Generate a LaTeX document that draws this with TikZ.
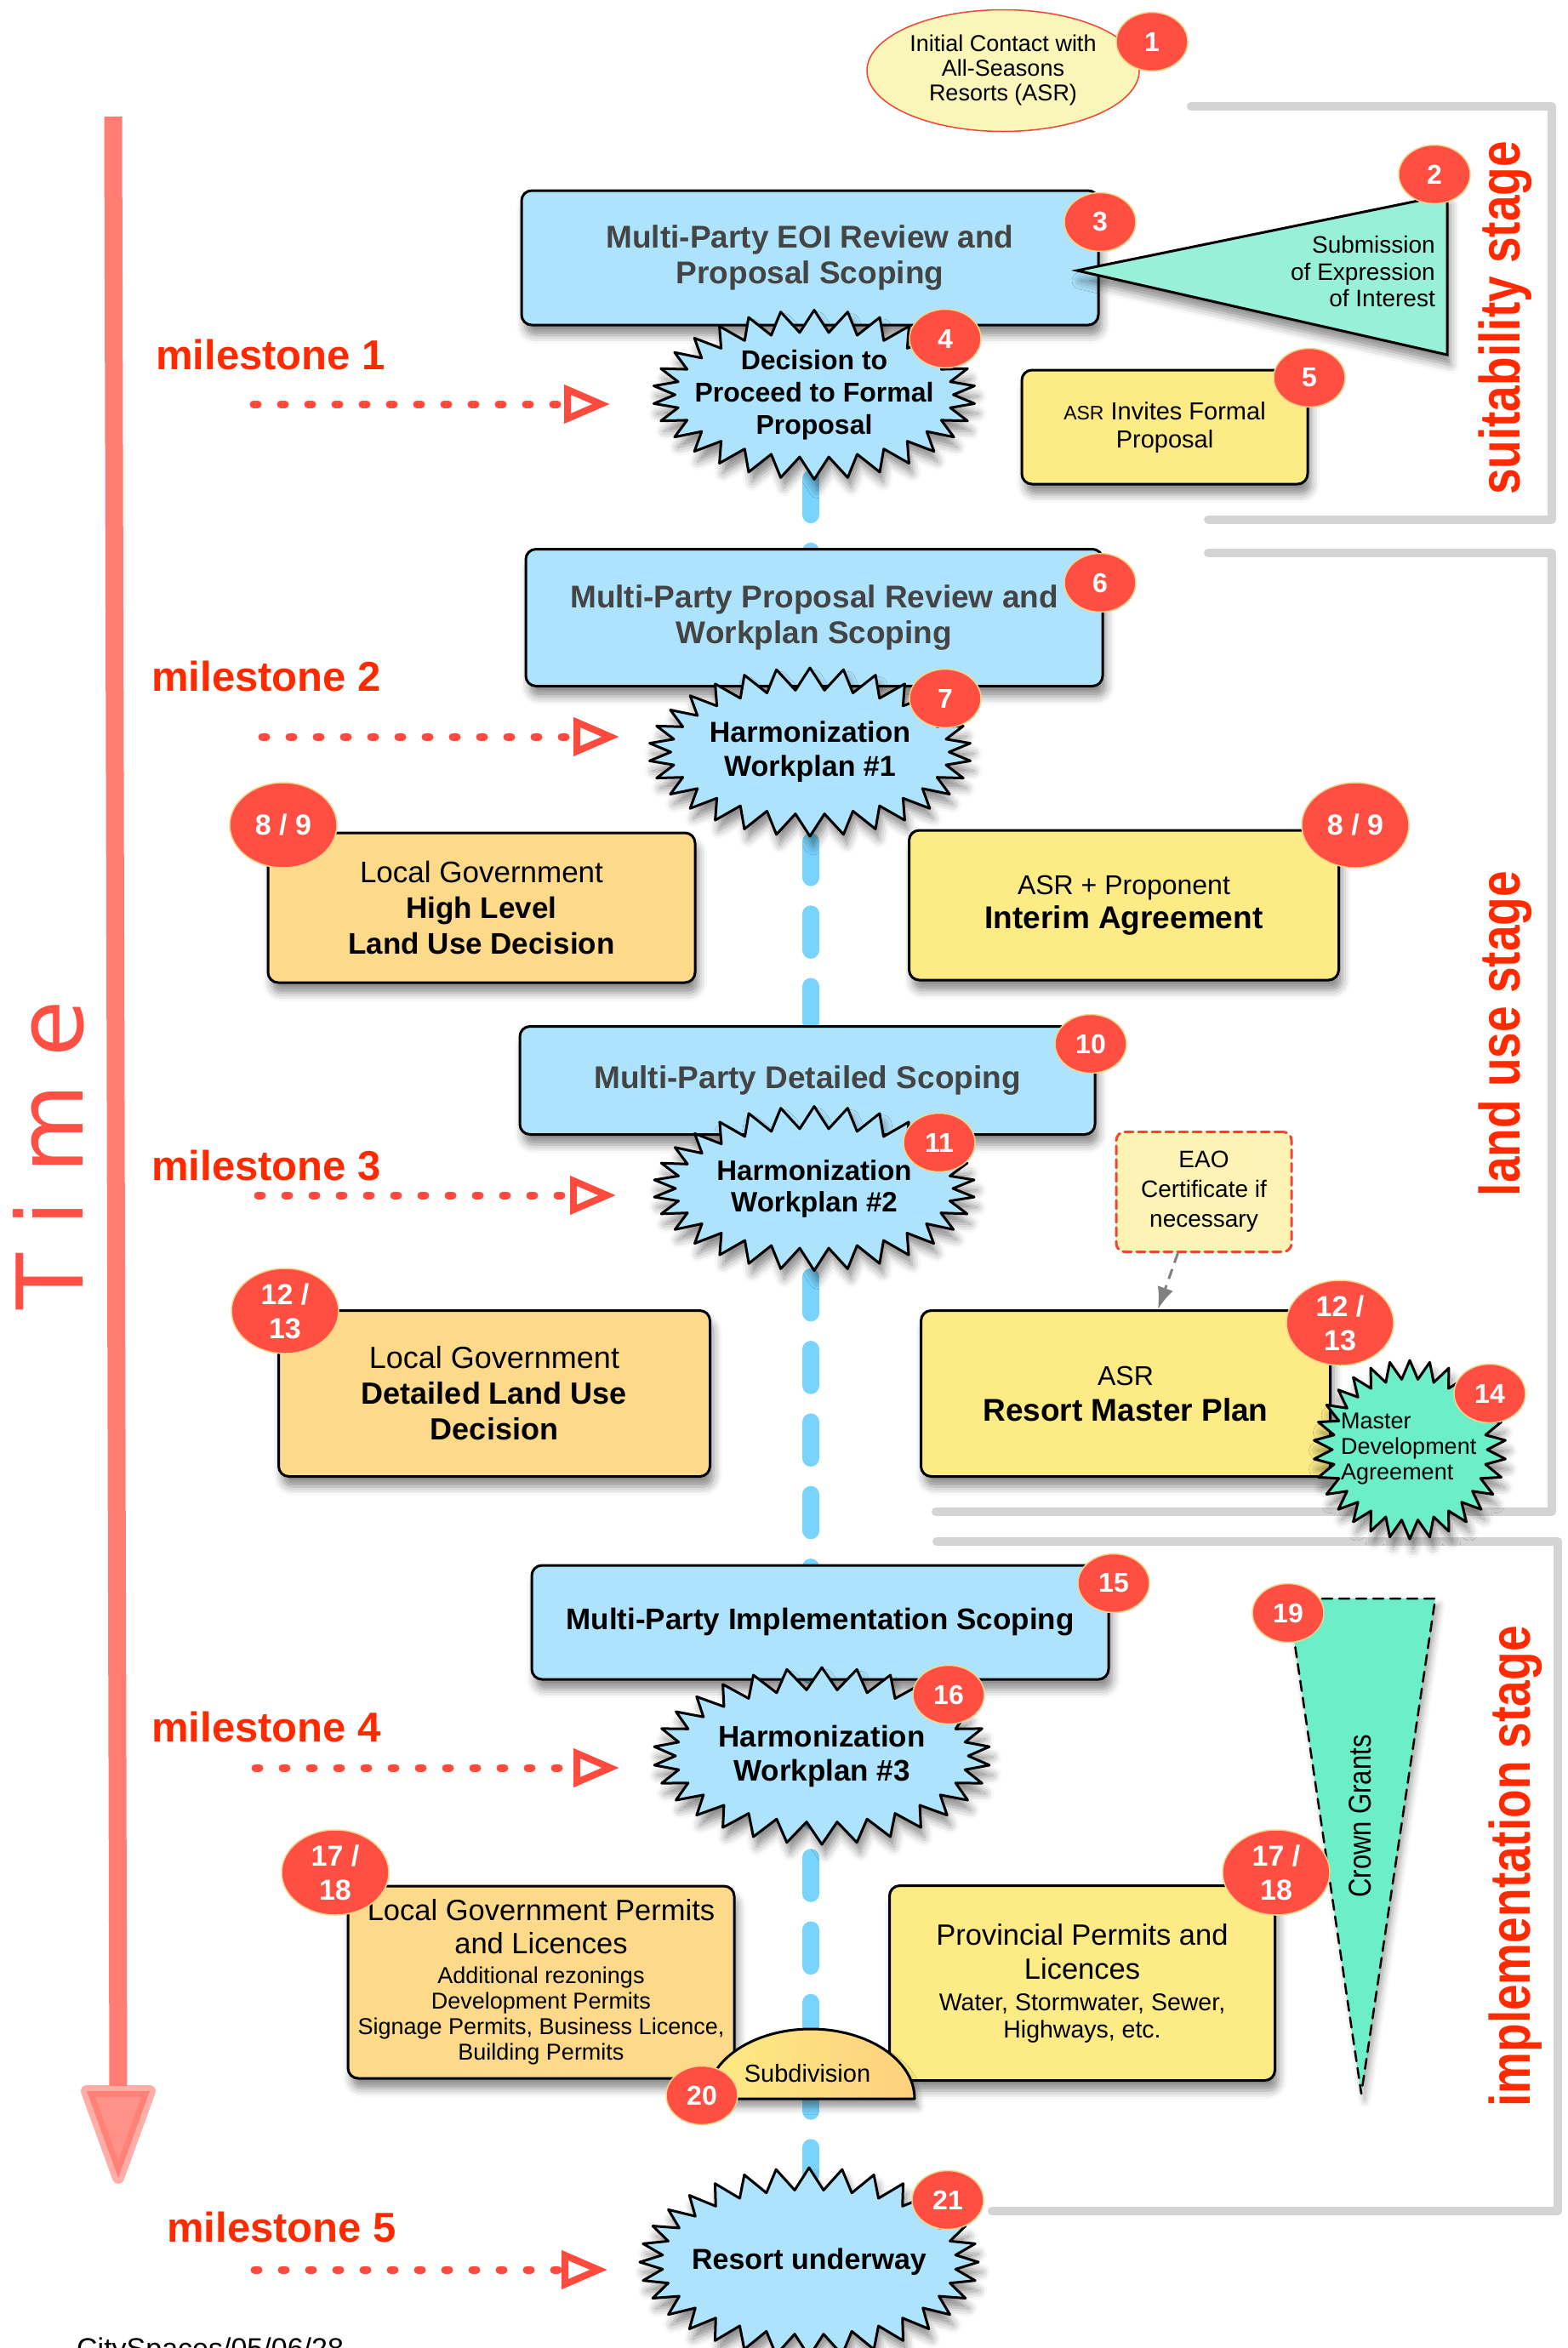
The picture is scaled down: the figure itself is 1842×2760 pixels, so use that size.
\documentclass[tikz,border=0pt]{standalone}
\usepackage{fontspec}
\setmainfont{Liberation Sans}
\newfontfamily\timefont{DejaVu Sans}
\usetikzlibrary{arrows.meta}
\usetikzlibrary{shapes.geometric}
\usetikzlibrary{shapes.symbols}
\usetikzlibrary{shadows.blur}
\usetikzlibrary{backgrounds}

\definecolor{boxblue}{RGB}{173,227,252}
\definecolor{boxyellow}{RGB}{253,235,133}
\definecolor{boxorange}{RGB}{253,217,138}
\definecolor{paleyellow}{RGB}{250,245,184}
\definecolor{eaoyellow}{RGB}{253,243,181}
\definecolor{mint}{RGB}{152,240,216}
\definecolor{seagreen}{RGB}{108,238,201}
\definecolor{badgered}{RGB}{255,79,66}
\definecolor{badgerim}{RGB}{248,212,138}
\definecolor{stagered}{RGB}{255,42,0}
\definecolor{arrowred}{RGB}{255,75,62}
\definecolor{timered}{RGB}{255,118,108}
\definecolor{timetext}{RGB}{255,80,69}
\definecolor{bracketgray}{RGB}{212,212,212}
\definecolor{pathblue}{RGB}{120,212,253}
\definecolor{titlegray}{RGB}{68,68,68}
\definecolor{ellred}{RGB}{240,70,50}

\tikzset{
  box/.style={draw=black, line width=3pt, rounded corners=12pt, inner sep=0pt, align=center,
    blur shadow={shadow xshift=4pt, shadow yshift=-12pt, shadow blur radius=10pt, shadow opacity=45}},
  bluebox/.style={box, fill=boxblue, text=titlegray, font=\fontsize{37}{42}\selectfont\bfseries},
  yellowbox/.style={box, fill=boxyellow},
  orangebox/.style={box, fill=boxorange},
  burst/.style={starburst, starburst points=30, starburst point height=26pt, random starburst=0,
    draw=black, line width=3pt, fill=boxblue, inner sep=0pt,
    blur shadow={shadow xshift=4pt, shadow yshift=-12pt, shadow blur radius=10pt, shadow opacity=45}},
  bursttext/.style={inner sep=0pt, align=center},
  badge/.style={ellipse, fill=badgered, draw=badgerim, line width=1.5pt, text=white, inner sep=0pt,
    minimum width=84pt, minimum height=69pt, align=center, font=\fontsize{32}{38}\selectfont\bfseries},
  bigbadge/.style={badge, minimum width=126pt, minimum height=100pt, font=\fontsize{34}{40}\selectfont\bfseries},
  milestone/.style={anchor=west, inner sep=0pt, text=stagered, font=\fontsize{49}{55}\selectfont\bfseries},
  msarrow/.style={draw=arrowred, line width=9pt, line cap=round, dash pattern=on 5pt off 27pt,
    -{Triangle[open, length=54pt, width=44pt, line width=8pt]}},
  stagetext/.style={rotate=90, anchor=base, inner sep=0pt, text=stagered, font=\fontsize{55}{60}\selectfont\bfseries},
  bracket/.style={draw=bracketgray, line width=10pt, line cap=round, line join=round},
  centerline/.style={draw=pathblue, line width=20pt, line cap=round, dash pattern=on 42.6pt off 42.7pt},
}

\begin{document}
\begin{tikzpicture}[line cap=round,line join=round,x=1pt,y=-1pt]
\useasboundingbox (0,0) rectangle (1842,2760);
\begin{scope}[on background layer]
\fill[white] (0,0) rectangle (1842,2760);
\end{scope}
%\path [blur shadow] only to get the shadow machinery started, hidden under the contact ellipse
\path [blur shadow={shadow opacity=0}] (1180,80) rectangle (1180.2,80.2);
% stage brackets
\draw [bracket] (1400,125)-- (1824,125)-- (1824,611)-- (1420,611);
\draw [bracket] (1420,650)-- (1824,650)-- (1824,1777)-- (1100,1777);
\draw [bracket] (1101,1812)-- (1831,1812)-- (1831,2599)-- (1166,2599);
\node[stagetext] (suitability) at (1786,374) {\scalebox{1}[1.22]{suitability stage}};
\node[stagetext] (landuse) at (1786,1215) {\scalebox{1}[1.22]{land use stage}};
\node[stagetext] (implementation) at (1798,2194) {\scalebox{1}[1.22]{implementation stage}};
% time axis
\coordinate (ttop) at (133,137);
\coordinate (tbot) at (139,2452);
\draw [timered, line width=21pt, line cap=butt, opacity=.95] (ttop)-- (tbot);
\filldraw [fill=timered, draw=timered, line width=14pt, fill opacity=.8, draw opacity=.6] (102,2458)-- (176,2458)-- (139,2560)-- cycle;
\node[rotate=90, anchor=base west, inner sep=0pt, text=timetext, font=\timefont\fontsize{108}{110}\selectfont] (timelabel) at (97,1540) {T\kern32pt i\kern32pt m\kern32pt e};
% suitability stage
\node[ellipse, draw=ellred, line width=1.5pt, fill=paleyellow, minimum width=320pt, minimum height=143pt, inner sep=0pt, align=center, font=\fontsize{27}{29}\selectfont] (contact) at (1179,83) {Initial Contact with\\All-Seasons\\Resorts (ASR)};
\node[bluebox, minimum width=678pt, minimum height=158pt] (eoi) at (952,303) {Multi-Party EOI Review and\\Proposal Scoping};
\draw [draw=black, line width=3pt, line join=miter, fill=mint, blur shadow={shadow xshift=4pt, shadow yshift=-12pt, shadow blur radius=10pt, shadow opacity=45}] (1266,318)-- (1701,229)-- (1701,417)-- cycle;
\node[anchor=east, inner sep=0pt, align=right, font=\fontsize{28}{31.5}\selectfont] (submission) at (1687,319) {Submission\\of Expression\\of Interest};
\node[burst, minimum width=379pt, minimum height=199pt] (decision) at (957,464) {};
\node[bursttext, font=\fontsize{32}{38}\selectfont\bfseries] (decisiontext) at (decision) {Decision to\\Proceed to Formal\\Proposal};
\node[yellowbox, minimum width=336pt, minimum height=134pt, font=\fontsize{29}{33}\selectfont] (invites) at (1369,502) {{\fontsize{23}{33}\selectfont ASR} Invites Formal\\Proposal};
% land use stage
\node[bluebox, minimum width=678pt, minimum height=161pt] (proposal) at (957,726) {Multi-Party Proposal Review and\\Workplan Scoping};
\node[burst, minimum width=379pt, minimum height=198pt] (harmone) at (952,884) {};
\node[bursttext, font=\fontsize{34}{40}\selectfont\bfseries] (harmonetext) at (harmone) {Harmonization\\Workplan \#1};
\node[orangebox, minimum width=502pt, minimum height=176pt, font=\fontsize{35}{42}\selectfont] (highlevel) at (566,1067) {Local Government\\\textbf{High Level}\\\textbf{Land Use Decision}};
\node[yellowbox, minimum width=505pt, minimum height=176pt, font=\fontsize{32}{40}\selectfont] (interim) at (1321,1064) {ASR + Proponent\\{\fontsize{37}{40}\selectfont\bfseries Interim Agreement}};
\node[bluebox, minimum width=676pt, minimum height=127pt] (detailed) at (949,1270) {Multi-Party Detailed Scoping};
\node[burst, minimum width=378pt, minimum height=193pt] (harmtwo) at (957,1397) {};
\node[bursttext, font=\fontsize{33}{37}\selectfont\bfseries] (harmtwotext) at (harmtwo) {Harmonization\\Workplan \#2};
\node[draw=ellred, line width=3pt, dash pattern=on 10pt off 6pt, rounded corners=10pt, fill=eaoyellow, minimum width=206pt, minimum height=141pt, inner sep=0pt, align=center, font=\fontsize{28}{35}\selectfont] (eao) at (1415,1401) {EAO\\Certificate if\\necessary};
\node[orangebox, minimum width=507pt, minimum height=195pt, font=\fontsize{36}{42}\selectfont] (landuse) at (581,1638) {Local Government\\\textbf{Detailed Land Use}\\\textbf{Decision}};
\node[yellowbox, minimum width=481pt, minimum height=195pt, font=\fontsize{32}{42}\selectfont] (master) at (1323,1638) {ASR\\{\fontsize{37}{42}\selectfont\bfseries Resort Master Plan}};
\draw [draw=gray, line width=3pt, line cap=butt, dash pattern=on 12pt off 8pt, -{Latex[length=26pt, width=19pt]}] (eao.247)-- (master.69);
\node[burst, starburst point height=22pt, fill=seagreen, minimum width=226pt, minimum height=210pt] (mda) at (1657,1704) {};
\node[bursttext, anchor=west, align=left, font=\fontsize{27}{30}\selectfont] (mdatext) at (1576,1703) {Master\\Development\\Agreement};
% implementation stage
\node[bluebox, text=black, minimum width=678pt, minimum height=134pt, font=\fontsize{35}{42}\selectfont\bfseries] (implement) at (964,1907) {Multi-Party Implementation Scoping};
\node[burst, minimum width=396pt, minimum height=208pt] (harmthree) at (966,2064) {};
\node[bursttext, font=\fontsize{35}{40}\selectfont\bfseries] (harmthreetext) at (harmthree) {Harmonization\\Workplan \#3};
\draw [draw=black, line width=2.5pt, dash pattern=on 12pt off 8pt, fill=seagreen, blur shadow={shadow xshift=4pt, shadow yshift=-8pt, shadow blur radius=8pt, shadow opacity=35}] (1514,1879)-- (1687,1879)-- (1600,2461)-- cycle;
\node[rotate=90, inner sep=0pt, font=\fontsize{31}{34}\selectfont] (crown) at (1599,2135) {\scalebox{1}[1.2]{Crown Grants}};
\node[orangebox, minimum width=454pt, minimum height=226pt, font=\fontsize{27}{30}\selectfont] (localpermits) at (636,2330) {{\fontsize{34.5}{39}\selectfont Local Government Permits}\\[9pt]{\fontsize{34.5}{39}\selectfont and Licences}\\[5pt]Additional rezonings\\Development Permits\\Signage Permits, Business Licence,\\Building Permits};
\node[yellowbox, minimum width=453pt, minimum height=229pt, font=\fontsize{28.5}{32}\selectfont] (provpermits) at (1272,2331) {{\fontsize{34.5}{40}\selectfont Provincial Permits and}\\[8pt]{\fontsize{34.5}{40}\selectfont Licences}\\[5pt]Water, Stormwater, Sewer,\\Highways, etc.};
\draw [draw=black, line width=3pt, left color=boxyellow, right color=boxorange!90!orange, blur shadow={shadow xshift=4pt, shadow yshift=-10pt, shadow blur radius=8pt, shadow opacity=40}] (831,2467) arc [start angle=180, end angle=360, x radius=122, y radius=82]-- cycle;
\node[inner sep=0pt, font=\fontsize{29}{32}\selectfont] (subdivision) at (949,2437) {Subdivision};
\node[burst, starburst points=32, minimum width=398pt, minimum height=222pt] (underway) at (951,2659) {};
\node[bursttext, font=\fontsize{34}{40}\selectfont\bfseries] (underwaytext) at (underway) {Resort underway};
% centre line
\coordinate (ltop) at (953,562.5);
\coordinate (lbot) at (953,2556);
\begin{scope}[on background layer]
\draw [centerline] (ltop)-- (lbot);
\end{scope}
% milestones
\node[milestone] (ms1) at (183,417) {milestone 1};
\node[milestone] (ms2) at (178,795) {milestone 2};
\node[milestone] (ms3) at (178,1370) {milestone 3};
\node[milestone] (ms4) at (178,2030) {milestone 4};
\node[milestone] (ms5) at (196,2618) {milestone 5};
\coordinate (mafrom) at (298,475);
\coordinate (mato) at (717,475);
\coordinate (mbfrom) at (308,866);
\coordinate (mbto) at (728,866);
\coordinate (mcfrom) at (303,1405);
\coordinate (mcto) at (724,1405);
\coordinate (mdfrom) at (300,2078);
\coordinate (mdto) at (728,2078);
\coordinate (mefrom) at (299,2668);
\coordinate (meto) at (714,2668);
\draw [msarrow] (mafrom)-- (mato);
\draw [msarrow] (mbfrom)-- (mbto);
\draw [msarrow] (mcfrom)-- (mcto);
\draw [msarrow] (mdfrom)-- (mdto);
\draw [msarrow] (mefrom)-- (meto);
% step numbers
\node[badge] (n1) at (1354,49) {1};
\node[badge] (n2) at (1686,205) {2};
\node[badge] (n3) at (1293,261) {3};
\node[badge] (n4) at (1111,398) {4};
\node[badge] (n5) at (1539,444) {5};
\node[badge] (n6) at (1293,685) {6};
\node[badge] (n7) at (1111,821) {7};
\node[bigbadge] (n89a) at (333,970) {8 / 9};
\node[bigbadge] (n89b) at (1593,970) {8 / 9};
\node[badge] (n10) at (1282,1227) {10};
\node[badge] (n11) at (1104,1343) {11};
\node[bigbadge] (n1213a) at (335,1541) {12 /\\13};
\node[bigbadge] (n1213b) at (1575,1555) {12 /\\13};
\node[badge] (n14) at (1751,1638) {14};
\node[badge] (n15) at (1309,1861) {15};
\node[badge] (n16) at (1115,1992) {16};
\node[bigbadge] (n1718a) at (394,2201) {17 /\\18};
\node[bigbadge] (n1718b) at (1500,2201) {17 /\\18};
\node[badge] (n19) at (1514,1896) {19};
\node[badge] (n20) at (825,2463) {20};
\node[badge] (n21) at (1114,2586) {21};
\node[anchor=base west, inner sep=0pt, font=\fontsize{34}{40}\selectfont] (credit) at (90,2772) {CitySpaces/05/06/28};
\end{tikzpicture}
\end{document}
